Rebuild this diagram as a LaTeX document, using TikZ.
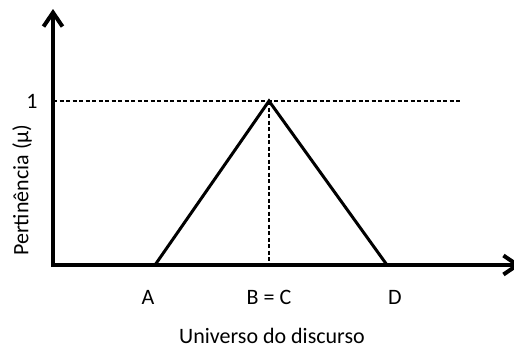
\documentclass[tikz,border=0pt]{standalone}
\usepackage{fontspec}
\setmainfont{Carlito}
\usetikzlibrary{arrows.meta}

\tikzset{
  axis/.style={line width=4pt,-{Straight Barb[length=14pt,width=19pt]}},
  guide/.style={dash pattern=on 4pt off 2.5pt,line width=1.1pt},
  label/.style={font=\fontsize{22}{26}\selectfont,inner sep=0pt}
}

\begin{document}
\begin{tikzpicture}[x=1pt,y=-1pt]
    \useasboundingbox (0,0) rectangle (514,349);
    \coordinate (origin) at (53,265);
    \coordinate (y top) at (53,9);
    \coordinate (x end) at (521,265);
    \coordinate (A) at (155,265);
    \coordinate (peak) at (269,101);
    \coordinate (BC) at (269,265);
    \coordinate (D) at (387,265);
    \coordinate (one) at (53,101);
    \coordinate (guide end) at (462,101);
    % dashed guides
    \draw[guide] (one) -- (guide end);
    \draw[guide] (peak) -- (BC);
    % triangle
    \draw[line width=3pt] (A) -- (peak) -- (D);
    % axes
    \draw[axis] (53,267) -- (y top);
    \draw[axis] (origin) -- (x end);
    % labels
    \node[label] (l one) at (32,101) {1};
    \foreach \x/\name/\xtext in {148/a/A, 269/bc/B = C, 395/d/D}
    \node[label] (l \name) at (\x,297) {\xtext};
    \node[label] (x title) at (272,336) {Universo do discurso};
    \node[label,rotate=90] (y title) at (22,190) {Pertinência (μ)};
\end{tikzpicture}
\end{document}
